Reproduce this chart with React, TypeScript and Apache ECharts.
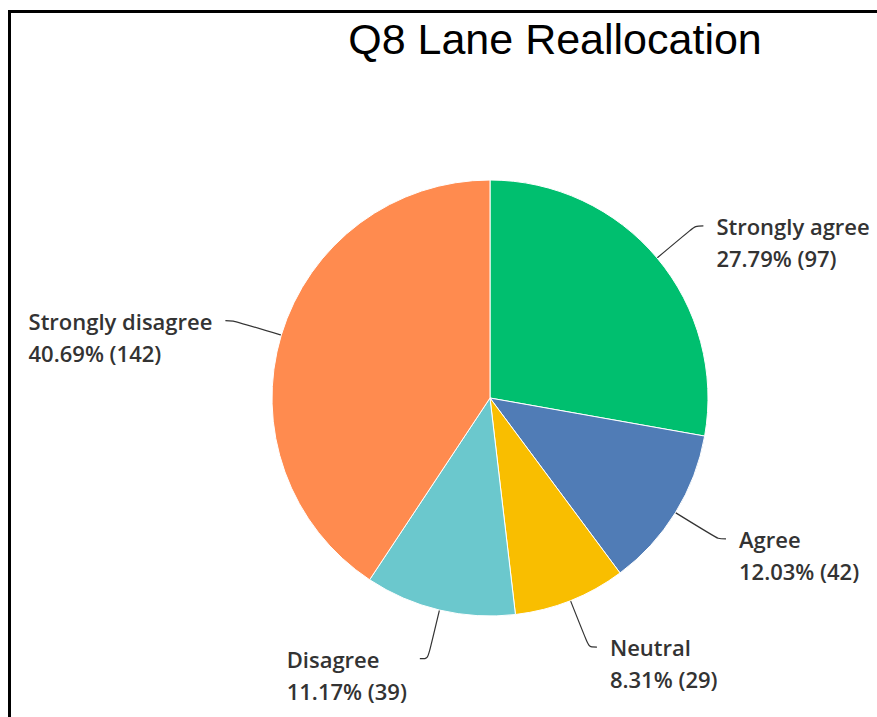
import React, { useEffect, useRef } from "react";
import * as echarts from "echarts";

const titleText = "Q8 Lane Reallocation";
const categories = ["Strongly agree", "Agree", "Neutral", "Disagree", "Strongly disagree"];
const counts = [97, 42, 29, 39, 142];
const sliceColors = ["#00BF6F", "#507CB6", "#F9BE00", "#6BC8CD", "#FF8B4F"];

export default function App() {
  const ref = useRef<HTMLDivElement>(null);
  useEffect(() => {
    if (!ref.current) return;
    const chart = echarts.init(ref.current, null, { renderer: "svg" });
    const total = counts.reduce((a, b) => a + b, 0);
    const data = categories.map((name, i) => ({
      name,
      value: counts[i],
      itemStyle: { color: sliceColors[i] },
    }));
    chart.setOption({
      animation: false,
      backgroundColor: "#ffffff",
      title: {
        text: titleText,
        left: 550,
        top: 12,
        textAlign: "center",
        textStyle: {
          fontFamily: "Liberation Sans, Arial, sans-serif",
          fontSize: 43,
          fontWeight: "normal",
          color: "#000",
        },
      },
      graphic: [
        { type: "rect", shape: { x: 8, y: 10, width: 869, height: 3 }, style: { fill: "#000" } },
        { type: "rect", shape: { x: 8, y: 10, width: 3, height: 707 }, style: { fill: "#000" } },
      ],
      series: [
        {
          type: "pie",
          center: [490, 398],
          radius: [0, 218],
          startAngle: 90,
          clockwise: true,
          avoidLabelOverlap: false,
          data,
          itemStyle: { borderColor: "#ffffff", borderWidth: 1 },
          label: {
            show: true,
            position: "outer",
            distanceToLabelLine: 13,
            formatter: (p: any) =>
              `{a|${p.name}}\n{a|${((p.value / total) * 100).toFixed(2)}% (${p.value})}`,
            padding: [32, 0, 0, 0],
            rich: {
              a: {
                align: "left",
                fontFamily: "Open Sans, sans-serif",
                fontSize: 22,
                fontWeight: 600,
                color: "#333333",
                lineHeight: 32,
              },
            },
          },
          labelLine: {
            show: true,
            length: 50,
            length2: 8,
            smooth: true,
            lineStyle: { color: "#333333", width: 1.2 },
          },
          emphasis: { disabled: true },
        },
      ],
    });
    return () => chart.dispose();
  }, []);
  return (
    <div
      ref={ref}
      style={{ position: "absolute", left: 0, top: 0, width: 877, height: 717 }}
    />
  );
}
